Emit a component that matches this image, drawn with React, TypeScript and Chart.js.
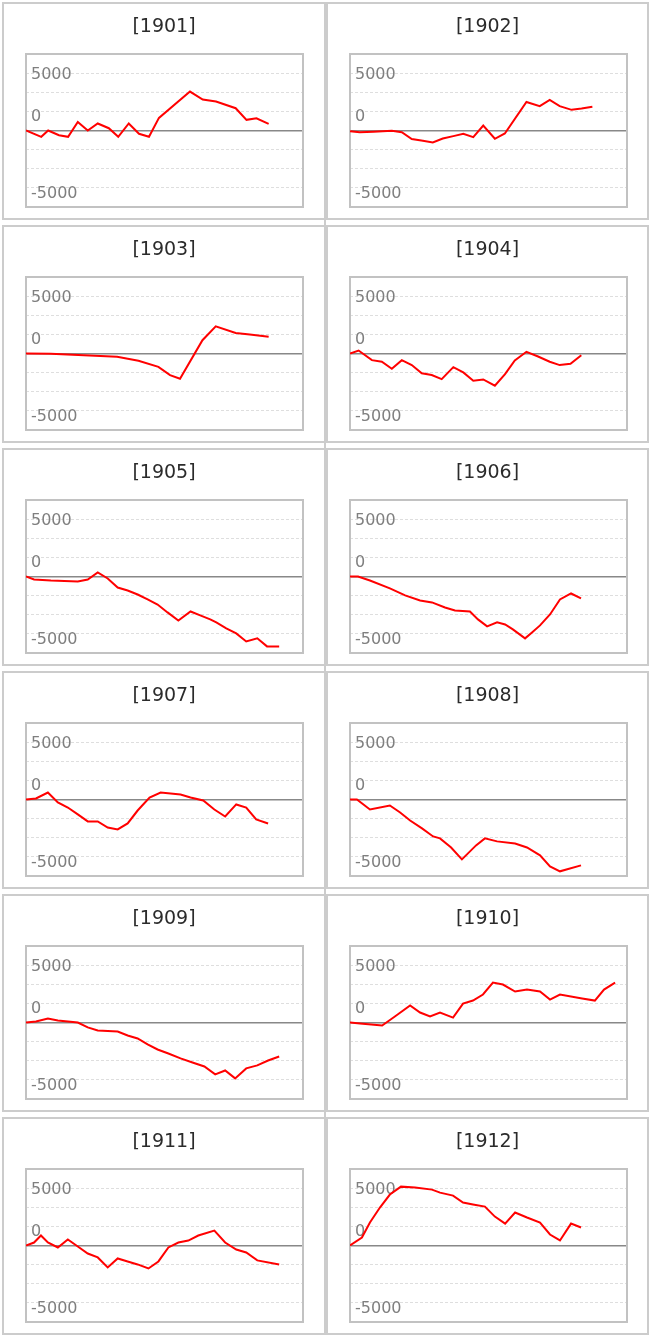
import React, { useEffect, useRef } from 'react';
import { Chart, registerables } from 'chart.js';

Chart.register(...registerables);

// ---------- data ----------
const years = ['1901', '1902', '1903', '1904', '1905', '1906', '1907', '1908', '1909', '1910', '1911', '1912'];

// x positions (percent of the period shown) and values for each year
const pos1901 = [0, 5.5, 8.0, 11.9, 15.2, 18.7, 22.3, 25.9, 29.9, 33.3, 37.1, 40.8, 44.4, 48.0, 59.2, 63.8, 68.6, 75.7, 79.6, 83.2, 87.6];
const val1901 = [0, -550, 0, -410, -550, 750, 0, 610, 200, -550, 610, -290, -550, 1100, 3390, 2700, 2520, 1940, 930, 1070, 580];

const pos1902 = [0, 3.5, 8.5, 15.1, 18.7, 22.3, 26.3, 29.9, 33.5, 37.3, 40.9, 44.5, 48.1, 52.3, 55.9, 63.7, 68.5, 72.1, 75.7, 80.0, 83.6, 87.5];
const val1902 = [-60, -150, -100, -30, -150, -750, -900, -1040, -700, -490, -290, -580, 430, -720, -260, 2490, 2120, 2670, 2120, 1800, 1910, 2060];

const pos1903 = [0, 8.9, 20.9, 32.9, 40.6, 47.8, 52.0, 55.6, 63.7, 68.5, 75.7, 80.8, 87.6];
const val1903 = [0, -30, -150, -290, -640, -1160, -1880, -2200, 1160, 2370, 1790, 1650, 1470];

const pos1904 = [0, 3.1, 7.9, 11.5, 15.1, 18.7, 22.3, 25.9, 29.5, 33.1, 37.3, 40.9, 44.5, 48.1, 52.3, 55.9, 59.5, 63.7, 67.9, 72.1, 75.7, 79.6, 83.5];
const val1904 = [0, 260, -580, -720, -1330, -580, -1010, -1730, -1880, -2230, -1190, -1650, -2370, -2260, -2810, -1820, -610, 150, -260, -720, -1010, -900, -150];

const pos1905 = [0, 2.9, 9, 18.7, 22.3, 25.9, 29.5, 33.1, 36.7, 40.3, 43.9, 47.5, 51.1, 55, 59.4, 62.9, 66.5, 68.7, 72.3, 75.9, 79.5, 83.5, 87, 91.4];
const val1905 = [0, -260, -350, -430, -260, 350, -170, -960, -1220, -1570, -2000, -2440, -3130, -3830, -3050, -3390, -3740, -4000, -4520, -4960, -5660, -5390, -6090, -6090];

const pos1906 = [0, 2.9, 7.2, 14.4, 19.9, 25.3, 29.6, 34.3, 37.9, 43.3, 46.2, 49.5, 53.1, 56, 58.8, 63.2, 65.7, 68.6, 72.2, 75.8, 79.8, 83.4];
const val1906 = [0, 0, -350, -1040, -1650, -2090, -2260, -2700, -2960, -3050, -3740, -4350, -4000, -4180, -4610, -5390, -4870, -4260, -3310, -2000, -1480, -1910];

const pos1907 = [0, 3.6, 7.9, 11.5, 15.1, 18.7, 22.3, 25.9, 29.5, 33.1, 36.7, 40.3, 44.6, 48.6, 55.8, 59.4, 64, 68, 71.9, 75.9, 79.5, 83.1, 87.4];
const val1907 = [0, 90, 610, -260, -700, -1300, -1910, -1910, -2440, -2610, -2090, -960, 170, 610, 430, 170, -90, -870, -1480, -430, -700, -1740, -2090];

const pos1908 = [0, 2.5, 7.2, 14.4, 18.1, 21.7, 26, 30, 32.5, 36.5, 40.4, 45.5, 48.7, 53.1, 59.6, 63.9, 68.6, 72.2, 75.8, 83.4];
const val1908 = [0, 0, -870, -520, -1130, -1830, -2520, -3220, -3390, -4180, -5220, -4000, -3390, -3650, -3830, -4180, -4870, -5830, -6260, -5740];

const pos1909 = [0, 3.6, 7.9, 11.5, 18.7, 22.3, 25.9, 33.1, 36.7, 40.3, 43.9, 47.5, 51.4, 55.8, 60.1, 64.4, 68.3, 71.9, 75.5, 79.5, 83.5, 87.4, 91.4];
const val1909 = [0, 90, 350, 170, 0, -430, -700, -780, -1130, -1390, -1910, -2350, -2700, -3130, -3480, -3830, -4520, -4180, -4870, -4000, -3740, -3310, -2960];

const pos1910 = [0, 3.6, 11.6, 16.2, 21.7, 25.3, 28.9, 32.5, 37.2, 40.8, 44.4, 48, 51.6, 55.2, 59.6, 63.9, 68.6, 72.2, 75.8, 83.8, 88.4, 91.7, 95.7];
const val1910 = [0, -90, -260, 520, 1480, 870, 520, 870, 430, 1650, 1910, 2440, 3480, 3310, 2700, 2870, 2700, 2000, 2440, 2090, 1910, 2870, 3480];

const pos1911 = [0, 2.9, 5.4, 7.9, 11.5, 15.1, 18.7, 22.3, 25.9, 29.5, 33.1, 36.7, 40.3, 44.2, 47.8, 51.4, 55, 58.6, 62.2, 68, 71.9, 75.9, 79.5, 83.5, 91.4];
const val1911 = [0, 260, 870, 260, -170, 520, -90, -700, -1040, -1910, -1130, -1390, -1650, -2000, -1390, -170, 260, 430, 870, 1300, 260, -350, -610, -1300, -1650];

const pos1912 = [0, 4.3, 7.2, 10.8, 14.4, 18.4, 23.5, 29.6, 32.5, 37.2, 40.8, 44.4, 48.7, 52.3, 56, 59.6, 63.9, 68.6, 72.2, 75.8, 79.8, 83.4];
const val1912 = [0, 700, 2000, 3310, 4440, 5130, 5050, 4870, 4610, 4350, 3740, 3570, 3390, 2520, 1910, 2870, 2440, 2000, 960, 440, 1910, 1570];

const positions = [pos1901, pos1902, pos1903, pos1904, pos1905, pos1906, pos1907, pos1908, pos1909, pos1910, pos1911, pos1912];
const values = [val1901, val1902, val1903, val1904, val1905, val1906, val1907, val1908, val1909, val1910, val1911, val1912];

// axis
const yTickValues = [5000, 0, -5000];
const yTickLabels = ['5000', '0', '-5000'];
const Y_MAX = 20000 / 3;
const Y_STEP = 5000 / 3;
const X_MIN = 0;
const X_MAX = 100;

// ---------- plugin: frame + tick labels ----------
const framePlugin = {
  id: 'frameAndLabels',
  beforeDatasetsDraw(chart: any) {
    const { ctx, chartArea: a } = chart;
    const yScale = chart.scales.y;
    ctx.save();
    ctx.strokeStyle = '#c2c2c2';
    ctx.lineWidth = 2;
    ctx.strokeRect(a.left, a.top, a.right - a.left, a.bottom - a.top);
    ctx.fillStyle = '#7f7f7f';
    ctx.font = '16px "DejaVu Sans"';
    ctx.textAlign = 'left';
    ctx.textBaseline = 'alphabetic';
    yTickValues.forEach((v, i) => {
      const shift = v === 0 ? -16 : v < 0 ? 4 : 0;
      ctx.fillText(yTickLabels[i], a.left + 5, yScale.getPixelForValue(v) + shift + 6);
    });
    ctx.restore();
  },
};

const PANEL_H = 218;
const ROW_PITCH = 223;

function Panel({ index, left, top, width }: { index: number; left: number; top: number; width: number }) {
  const ref = useRef<HTMLCanvasElement | null>(null);
  const innerW = width - 4;
  const innerH = PANEL_H - 4;

  useEffect(() => {
    if (!ref.current) return;
    const xs = positions[index];
    const ys = values[index];
    const chart = new Chart(ref.current, {
      type: 'line',
      data: {
        datasets: [
          {
            data: xs.map((x, i) => ({ x, y: ys[i] })),
            borderColor: '#ff0000',
            borderWidth: 2,
            pointRadius: 0,
            pointHoverRadius: 0,
            tension: 0,
            fill: false,
          },
        ],
      },
      options: {
        responsive: false,
        maintainAspectRatio: false,
        animation: false,
        events: [],
        layout: { padding: { left: 22, top: 50, right: innerW - 299, bottom: innerH - 203 } },
        plugins: { legend: { display: false }, tooltip: { enabled: false }, title: { display: false } },
        scales: {
          x: {
            type: 'linear',
            min: X_MIN,
            max: X_MAX,
            position: { y: 0 } as any,
            grid: { display: false, drawTicks: false },
            ticks: { display: false },
            border: { display: true, color: '#888888', width: 1.5 },
          },
          y: {
            type: 'linear',
            position: 'left',
            min: -Y_MAX,
            max: Y_MAX,
            ticks: { display: false, stepSize: Y_STEP },
            grid: {
              drawTicks: false,
              lineWidth: 1,
              color: (c: any) => (Math.abs(c.tick?.value ?? 1) < 1 ? 'rgba(0,0,0,0)' : '#dedede'),
            },
            border: { display: false, dash: [3, 2] },
          },
        },
      },
      plugins: [framePlugin],
    });
    return () => chart.destroy();
  }, [index, innerW, innerH]);

  return (
    <div
      style={{
        position: 'absolute',
        left,
        top,
        width,
        height: PANEL_H,
        boxSizing: 'border-box',
        border: '2px solid #cccccc',
        background: '#ffffff',
      }}
    >
      <canvas
        ref={ref}
        width={innerW}
        height={innerH}
        style={{ position: 'absolute', left: 0, top: 0, width: innerW, height: innerH }}
      />
      <div
        style={{
          position: 'absolute',
          left: 0,
          right: 0,
          top: 9,
          height: 24,
          lineHeight: '24px',
          textAlign: 'center',
          fontFamily: '"DejaVu Sans", sans-serif',
          fontSize: 19,
          color: '#2b2b2b',
        }}
      >
        [{years[index]}]
      </div>
    </div>
  );
}

export default function App() {
  return (
    <div style={{ position: 'absolute', left: 0, top: 0, width: 653, height: 1339, background: '#ffffff' }}>
      <div style={{ position: 'absolute', left: 324, top: 2, width: 2, height: 5 * ROW_PITCH + PANEL_H, background: '#cccccc' }} />
      {years.map((y, i) => {
        const col = i % 2;
        const row = Math.floor(i / 2);
        return (
          <Panel
            key={y}
            index={i}
            left={col === 0 ? 2 : 326}
            top={2 + row * ROW_PITCH}
            width={col === 0 ? 324 : 323}
          />
        );
      })}
    </div>
  );
}
